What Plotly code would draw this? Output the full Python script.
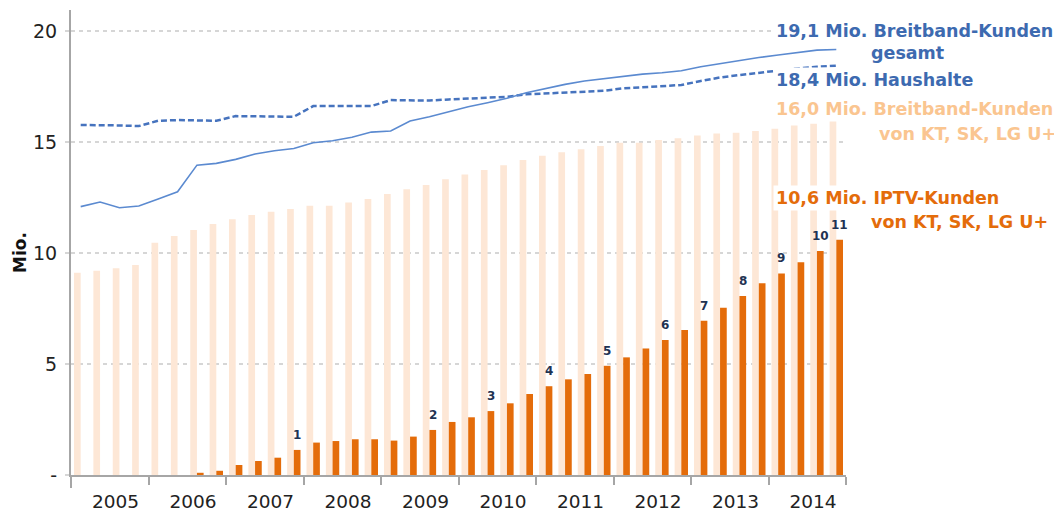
import plotly.graph_objects as go

# ---------------- data (quarterly, 2005 Q1 - 2014 Q4) ----------------
years = ["2005", "2006", "2007", "2008", "2009", "2010", "2011", "2012", "2013", "2014"]
quarters = [f"{y} Q{q}" for y in years for q in range(1, 5)]

# Breitband-Kunden von KT, SK, LG U+ (Mio.)
broadband_kt = [9.11, 9.20, 9.31, 9.46, 10.46, 10.77, 11.04, 11.31, 11.52, 11.71,
                11.86, 11.98, 12.13, 12.13, 12.28, 12.43, 12.66, 12.87, 13.06, 13.32,
                13.54, 13.74, 13.95, 14.19, 14.38, 14.54, 14.68, 14.82, 14.97, 14.97,
                15.09, 15.17, 15.30, 15.39, 15.42, 15.50, 15.60, 15.75, 15.82, 16.00]

# IPTV-Kunden von KT, SK, LG U+ (Mio.)
iptv = [0, 0, 0, 0, 0, 0, 0.10, 0.19, 0.45, 0.63,
        0.78, 1.13, 1.46, 1.53, 1.61, 1.61, 1.55, 1.73, 2.03, 2.39,
        2.60, 2.88, 3.23, 3.65, 4.00, 4.31, 4.55, 4.92, 5.30, 5.70,
        6.08, 6.53, 6.95, 7.54, 8.06, 8.64, 9.08, 9.58, 10.09, 10.60]

# Breitband-Kunden gesamt (Mio.)
broadband_total = [12.09, 12.30, 12.04, 12.12, 12.43, 12.76, 13.96, 14.04, 14.22, 14.46,
                   14.61, 14.71, 14.97, 15.06, 15.22, 15.45, 15.50, 15.95, 16.14, 16.37,
                   16.59, 16.77, 16.97, 17.22, 17.42, 17.60, 17.75, 17.85, 17.96, 18.06,
                   18.12, 18.21, 18.39, 18.54, 18.69, 18.81, 18.92, 19.02, 19.14, 19.17]

# Haushalte (Mio.)
households = [15.77, 15.77, 15.75, 15.72, 15.96, 15.99, 15.99, 15.96, 16.17, 16.17,
              16.17, 16.14, 16.62, 16.62, 16.62, 16.62, 16.89, 16.87, 16.87, 16.92,
              16.96, 17.00, 17.04, 17.15, 17.19, 17.22, 17.27, 17.31, 17.42, 17.46,
              17.52, 17.57, 17.75, 17.91, 18.02, 18.12, 18.24, 18.32, 18.39, 18.44]

# footnote markers above IPTV bars
note_quarters = ["2007 Q4", "2009 Q3", "2010 Q2", "2011 Q1", "2011 Q4", "2012 Q3",
                 "2013 Q1", "2013 Q3", "2014 Q1", "2014 Q3", "2014 Q4"]
note_labels = ["1", "2", "3", "4", "5", "6", "7", "8", "9", "10", "11"]

y_tickvals = [0, 5, 10, 15, 20]
y_ticktext = ["-", "5", "10", "15", "20"]

# ---------------- styling ----------------
FONT = "DejaVu Sans"
C_PEACH = "#FDE7D6"
C_ORANGE = "#E46C0A"
C_BLUE_SOLID = "#5B8AD0"
C_BLUE_DASH = "#4673BE"
C_BLUE_TEXT = "#3D6AB0"
C_LIGHT_ORANGE_TEXT = "#FAC590"
C_AXIS = "#A6A6A6"

# page body has an 8px margin: the figure is offset by 8px, so it is sized to fit
PAGE_OFF = 8
PLOT_L, PLOT_R, PLOT_T, PLOT_B = 71, 846, 10, 475   # plot area in page pixels
W, H = 1062 - PAGE_OFF, 512 - PAGE_OFF

xs = list(range(len(quarters)))

fig = go.Figure()
fig.add_trace(go.Bar(x=xs, y=broadband_kt, marker_color=C_PEACH, marker_line_width=0,
                     name="Breitband-Kunden von KT, SK, LG U+", hovertext=quarters))
fig.add_trace(go.Bar(x=xs, y=iptv, marker_color=C_ORANGE, marker_line_width=0,
                     name="IPTV-Kunden von KT, SK, LG U+", hovertext=quarters))
fig.add_trace(go.Scatter(x=xs, y=households, mode="lines", name="Haushalte",
                         line=dict(color=C_BLUE_DASH, width=2.5, dash="6px,3px"),
                         hovertext=quarters))
fig.add_trace(go.Scatter(x=xs, y=broadband_total, mode="lines", name="Breitband-Kunden gesamt",
                         line=dict(color=C_BLUE_SOLID, width=1.6), hovertext=quarters))

# footnote numbers
slot_px = (PLOT_R - PLOT_L) / len(quarters)
for q, lab in zip(note_quarters, note_labels):
    i = quarters.index(q)
    fig.add_annotation(x=i, y=iptv[i], xref="x", yref="y", text=f"<b>{lab}</b>",
                       showarrow=False, xshift=slot_px * 0.17, yshift=6, yanchor="bottom",
                       font=dict(family=FONT, size=12, color="#1F3352"))


def px_x(px):
    return (px - PLOT_L) / (PLOT_R - PLOT_L)


def px_y(py):
    return (PLOT_B - py) / (PLOT_B - PLOT_T)


labels = [
    ("<b>19,1 Mio. Breitband-Kunden</b>", 773, 31, C_BLUE_TEXT),
    ("<b>gesamt</b>", 868, 53, C_BLUE_TEXT),
    ("<b>18,4 Mio. Haushalte</b>", 773, 80, C_BLUE_TEXT),
    ("<b>16,0 Mio. Breitband-Kunden</b>", 773, 109, C_LIGHT_ORANGE_TEXT),
    ("<b>von KT, SK, LG U+</b>", 876, 134, C_LIGHT_ORANGE_TEXT),
    ("<b>10,6 Mio. IPTV-Kunden</b>", 773, 198, C_ORANGE),
    ("<b>von KT, SK, LG U+</b>", 868, 222, C_ORANGE),
]
for txt, lx, ly, col in labels:
    fig.add_annotation(x=px_x(lx), y=px_y(ly), xref="paper", yref="paper", text=txt,
                       showarrow=False, xanchor="left", yanchor="middle",
                       bgcolor="white", borderpad=2,
                       font=dict(family=FONT, size=17.5, color=col))

# y-axis title
fig.add_annotation(x=px_x(20), y=px_y(253), xref="paper", yref="paper", text="<b>Mio.</b>",
                   showarrow=False, textangle=-90, xanchor="center", yanchor="middle",
                   font=dict(family=FONT, size=17, color="#111111"))

# extension of the y-axis line below the x-axis
fig.add_shape(type="line", xref="paper", yref="paper", x0=0, x1=0, y0=0,
              y1=-13 / (PLOT_B - PLOT_T), line=dict(color=C_AXIS, width=2))

year_centers = [4 * k + 1.5 + 0.3 for k in range(len(years))]
year_bounds = [4 * k - 0.5 for k in range(len(years) + 1)]

fig.update_layout(
    width=W, height=H,
    margin=dict(l=PLOT_L - PAGE_OFF, r=1062 - PLOT_R, t=PLOT_T - PAGE_OFF, b=512 - PLOT_B),
    paper_bgcolor="white", plot_bgcolor="white",
    barmode="group", bargap=0.31, bargroupgap=0,
    showlegend=False,
    font=dict(family=FONT, size=19, color="#222222"),
    xaxis=dict(range=[-0.5, 39.5], tickmode="array", tickvals=year_centers, ticktext=years,
               ticks="", showgrid=False, zeroline=False, automargin=False,
               showline=True, linecolor=C_AXIS, linewidth=2,
               ticklabelstandoff=9,
               tickfont=dict(family=FONT, size=18.5, color="#222222"),
               minor=dict(tickmode="array", tickvals=year_bounds, ticks="outside",
                          ticklen=8, tickwidth=2, tickcolor=C_AXIS, showgrid=False)),
    yaxis=dict(range=[0, 20.95], tickmode="array", tickvals=y_tickvals, ticktext=y_ticktext,
               showgrid=True, gridcolor="#D6D6D6", gridwidth=1.5, griddash="4px,4px",
               zeroline=False, showline=True, linecolor=C_AXIS, linewidth=2, automargin=False,
               ticks="outside", ticklen=4, tickcolor="#D6D6D6", tickwidth=1.5,
               ticklabelstandoff=4,
               tickfont=dict(family=FONT, size=19, color="#222222")),
)

fig.write_html("out.html")
